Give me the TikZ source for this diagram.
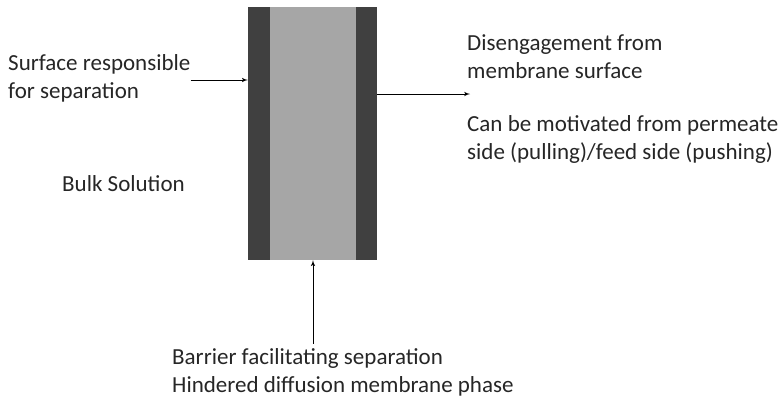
\documentclass[tikz,border=0pt]{standalone}
\usepackage{fontspec}
\setmainfont{Carlito}
\usetikzlibrary{shapes, arrows}

\definecolor{wallgray}{RGB}{64,64,64}
\definecolor{coregray}{RGB}{166,166,166}
\definecolor{inkgray}{RGB}{38,38,38}

\begin{document}
\begin{tikzpicture}[auto,>=latex', x=1pt, y=-1pt]

\tikzstyle{wall} = [fill=wallgray, shape=rectangle, minimum height=253pt, minimum width=22pt, inner sep=0pt]
\tikzstyle{core} = [fill=coregray, shape=rectangle, minimum height=253pt, minimum width=86pt, inner sep=0pt]
\tikzstyle{label} = [anchor=west, align=left, inner sep=0pt, text=inkgray, font=\fontsize{23}{28}\selectfont]

\useasboundingbox (0,0) rectangle (781,399);

% membrane
\node [core] at (313,133.5) (core) {};
\node [wall] at (259,133.5) (wallL) {};
\node [wall, minimum width=21pt] at (366.5,133.5) (wallR) {};

% texts
\node [label] at (8,78) (surface) {Surface responsible\\for separation};
\node [label] at (62,184) (bulk) {Bulk Solution};
\node [label] at (467,57) (diseng) {Disengagement from\\membrane surface};
\node [label] at (467,139) (motiv) {Can be motivated from permeate\\side (pulling)/feed side (pushing)};
\node [label] at (172,372) (barrier) {Barrier facilitating separation\\Hindered diffusion membrane phase};
\coordinate (out) at (470,94);

\begin{scope}[line width=1pt]
     \draw[->] ([xshift=0pt,yshift=-2pt]surface.east) -- ([yshift=-2pt]surface.east -| wallL.west);
     \draw[->] (wallR.east |- out) -- (out);
     \draw[->] (barrier.north -| core.south) ++(0,-4) -- (core.south);
\end{scope}
\end{tikzpicture}
\end{document}
